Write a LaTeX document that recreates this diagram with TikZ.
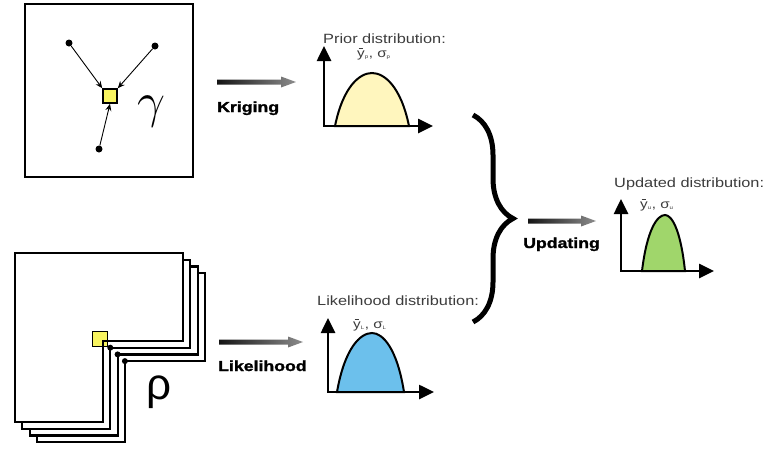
\documentclass[tikz,border=0pt]{standalone}
\usepackage{fontspec}
\setmainfont{Liberation Sans}
\newfontfamily\heavyfont[BoldFeatures={FakeBold=1.5}]{Liberation Sans}
\usetikzlibrary{arrows.meta,decorations.pathreplacing,calc}
\definecolor{pyellow}{RGB}{255,246,190}
\definecolor{syellow}{RGB}{248,244,96}
\definecolor{lblue}{RGB}{108,192,236}
\definecolor{lgreen}{RGB}{160,214,107}
\definecolor{txtgray}{RGB}{60,60,60}
\newcommand\wide[1]{\scalebox{1.22}[1]{#1}}
\newcommand\ybar{\leavevmode\hbox{\ooalign{y\cr\hidewidth\raisebox{0.66em}{\rule{0.32em}{0.07em}}\hidewidth\cr}}}
\newcommand\bellshape[6]{%
  \filldraw[bellline, fill=#6] (#1,#4) .. controls ({#1+0.22*(#2-#1)},{#4-0.75*(#4-#5)}) and ({#2-0.33*(#2-#1)},#5) .. (#2,#5)
    .. controls ({#2+0.33*(#3-#2)},#5) and ({#3-0.22*(#3-#2)},{#4-0.75*(#4-#5)}) .. (#3,#4) -- cycle;}
\newcommand\grayarrow[2]{%
  \shade[left color=black!92, right color=black!45]
    ($(#1)+(0,-2.5)$) -- ($(#2)+(-15,-2.5)$) -- ($(#2)+(-15,-5.5)$) -- (#2) --
    ($(#2)+(-15,5.5)$) -- ($(#2)+(-15,2.5)$) -- ($(#1)+(0,2.5)$) -- cycle;}
\begin{document}
\begin{tikzpicture}[x=1pt,y=-1pt,
  title/.style={anchor=base west, inner sep=0, text=txtgray, font=\fontsize{13.4}{15}\selectfont},
  param/.style={anchor=base west, inner sep=0, text=txtgray, font=\fontsize{12.5}{14}\selectfont},
  action/.style={anchor=base west, inner sep=0, font=\heavyfont\bfseries\fontsize{14.5}{17}\selectfont},
  axis/.style={line width=2.6pt, {Triangle[length=15pt,width=14pt]}-{Triangle[length=15pt,width=14pt]}},
  bellline/.style={line width=2pt, draw=black},
  dot/.style={circle, fill=black, inner sep=0, minimum size=7pt},
  smalldot/.style={circle, fill=black, inner sep=0, minimum size=6pt},
  sheet/.style={line width=2.2pt, fill=white, line join=miter},
  thinarrow/.style={line width=0.9pt, -{Stealth[length=7pt,width=6pt]}},
  pix/.style={draw=black, line width=1.6pt, fill=syellow, inner sep=0, minimum size=14pt}
]
\useasboundingbox (0,0) rectangle (770,448);

% ---------- top-left kriging box ----------
\draw[line width=2.5pt] (25,4) rectangle (193,177);
\node[pix] (sq) at (110,96) {};
\node[dot] (d1) at (69,43) {};
\node[dot] (d2) at (155,46) {};
\node[dot] (d3) at (99,149) {};
\draw[thinarrow] (d1) -- (sq.north west);
\draw[thinarrow] (d2) -- (sq.north east);
\draw[thinarrow] (d3) -- (sq.south);
\node[inner sep=0] (gam) at (151,112) {\scalebox{2}{\Huge$\gamma$}};

% ---------- bottom-left stack of realisations ----------
\foreach \i in {3,2,1}{
  \begin{scope}[shift={(7.3*\i,6.7*\i)}]
    \draw[sheet] (15,253) -- (183,253) -- (183,341) -- (103,341) -- (103,422) -- (15,422) -- cycle;
  \end{scope}
}
\draw[sheet] (15,253) -- (183,253) -- (183,341) -- (103,341) -- (103,422) -- (15,422) -- cycle;
\node[pix, minimum size=15pt] (px) at (100,339) {};
\draw[line width=2.2pt] (183,341) -- (103,341) -- (103,422);
\foreach \i in {1,2,3}{
  \node[smalldot] (c\i) at ({103+7.3*\i},{341+6.7*\i}) {};
}
\node[inner sep=0] (rho) at (159,392) {\fontsize{44}{44}\selectfont ρ};

% ---------- action arrows and labels ----------
\coordinate (ka) at (217,82);  \coordinate (kb) at (296,82);
\grayarrow{ka}{kb}
\node[action] (krig) at (217,112) {\wide{Kriging}};

\coordinate (la) at (219,342); \coordinate (lb) at (303,342);
\grayarrow{la}{lb}
\node[action] (likl) at (218,371) {\wide{Likelihood}};

\coordinate (ua) at (528,221); \coordinate (ub) at (596,221);
\grayarrow{ua}{ub}
\node[action] (upd) at (523,248) {\wide{Updating}};

% ---------- brace ----------
\coordinate (bt) at (473,115); \coordinate (bb) at (473,322);
\draw[line width=5pt, decorate, decoration={brace, amplitude=40pt, aspect=0.5}] (bt) -- (bb);

% ---------- prior distribution ----------
\bellshape{335}{372}{409}{126}{73}{pyellow}
\coordinate (po) at (324,126); \coordinate (pt) at (324,46); \coordinate (pr) at (433,126);
\draw[axis] (pt) -- (po) -- (pr);
\node[title] (ptitle) at (323,43) {\wide{Prior distribution:}};
\node[param] (pparam) at (357,57) {\wide{\ybar\textsubscript{\tiny p}, σ\textsubscript{\tiny p}}};

% ---------- likelihood distribution ----------
\bellshape{337}{372}{404}{392}{333}{lblue}
\coordinate (lo) at (328,392); \coordinate (lt) at (328,318); \coordinate (lr) at (434,392);
\draw[axis] (lt) -- (lo) -- (lr);
\node[title] (ltitle) at (317,305) {\wide{Likelihood distribution:}};
\node[param] (lparam) at (353,328) {\wide{\ybar\textsubscript{\tiny L}, σ\textsubscript{\tiny L}}};

% ---------- updated distribution ----------
\bellshape{642}{665}{685}{271}{215}{lgreen}
\coordinate (uo) at (621,271); \coordinate (ut) at (621,199); \coordinate (ur) at (714,271);
\draw[axis] (ut) -- (uo) -- (ur);
\node[title] (utitle) at (614,187) {\wide{Updated distribution:}};
\node[param] (uparam) at (640,208) {\wide{\ybar\textsubscript{\tiny u}, σ\textsubscript{\tiny u}}};
\end{tikzpicture}
\end{document}
